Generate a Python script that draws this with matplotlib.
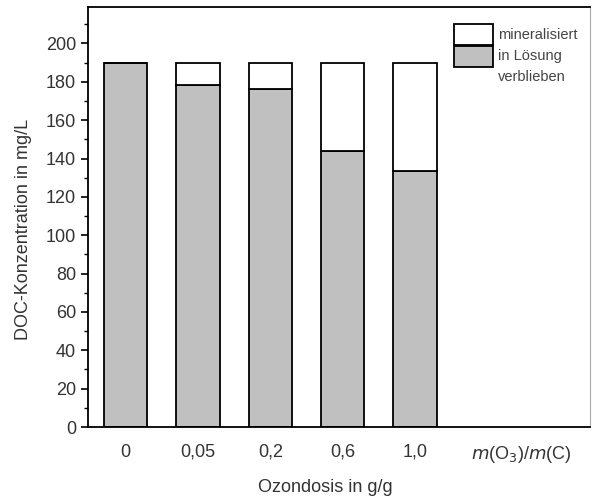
import matplotlib.pyplot as plt
from matplotlib.patches import Rectangle
from matplotlib.ticker import MultipleLocator

# data
dose_labels = ['0', '0,05', '0,2', '0,6', '1,0']
in_solution = [190, 178.5, 176.5, 144, 133.5]
total = [190, 190, 190, 190, 190]
mineralised = [t - s for t, s in zip(total, in_solution)]
legend_labels = ['mineralisiert', 'in Lösung\nverblieben']

plt.rcParams['font.family'] = ['Liberation Sans', 'DejaVu Sans']

W, H = 593, 501
fig = plt.figure(figsize=(W / 100, H / 100), dpi=100)
ax = fig.add_axes([88 / W, 1 - 427 / H, (590 - 88) / W, (427 - 7) / H])

x = list(range(len(dose_labels)))
ax.bar(x, in_solution, width=0.6, color='#c0c0c0', edgecolor='black', linewidth=1.3)
ax.bar(x, mineralised, width=0.6, bottom=in_solution, color='white',
       edgecolor='black', linewidth=1.3)

ax.set_xlim(-0.52, 6.42)
ax.set_ylim(0, 219)
# unit label sits a little right of where a sixth bar would be
ax.set_xticks(x + [5.47])
ax.set_xticklabels(dose_labels + [r'$m$(O$_3$)/$m$(C)'])
ax.tick_params(axis='x', length=0, pad=12, labelsize=13, labelcolor='#333333')
ax.set_yticks(range(0, 201, 20))
ax.yaxis.set_minor_locator(MultipleLocator(10))
ax.tick_params(axis='y', which='major', length=5, width=1.2, labelsize=13,
               labelcolor='#333333')
ax.tick_params(axis='y', which='minor', length=3, width=1.0)
for s in ax.spines.values():
    s.set_linewidth(1.3)
ax.spines['right'].set_color('#aaaaaa')
ax.spines['right'].set_linewidth(0.8)

# axis titles
fig.text(24 / W, 1 - 229 / H, 'DOC-Konzentration in mg/L', fontsize=13,
         color='#333333', rotation=90, ha='center', va='center')
fig.text(325 / W, 1 - 488 / H, 'Ozondosis in g/g', fontsize=13,
         color='#333333', ha='center', va='center')

# legend drawn by hand in figure pixels
fills = ['white', '#c0c0c0']
for i, fc in enumerate(fills):
    y0 = 45 + 22 * i
    fig.patches.append(Rectangle((454 / W, 1 - y0 / H), 39 / W, 21 / H,
                                 facecolor=fc, edgecolor='black', linewidth=1.3,
                                 transform=fig.transFigure))
fig.text(498 / W, 1 - 35 / H, legend_labels[0], fontsize=10.5, color='#444444',
         ha='left', va='center')
fig.text(498 / W, 1 - 49 / H, legend_labels[1], fontsize=10.5, color='#444444',
         ha='left', va='top', linespacing=1.6)

fig.savefig('out.png', dpi=100)
